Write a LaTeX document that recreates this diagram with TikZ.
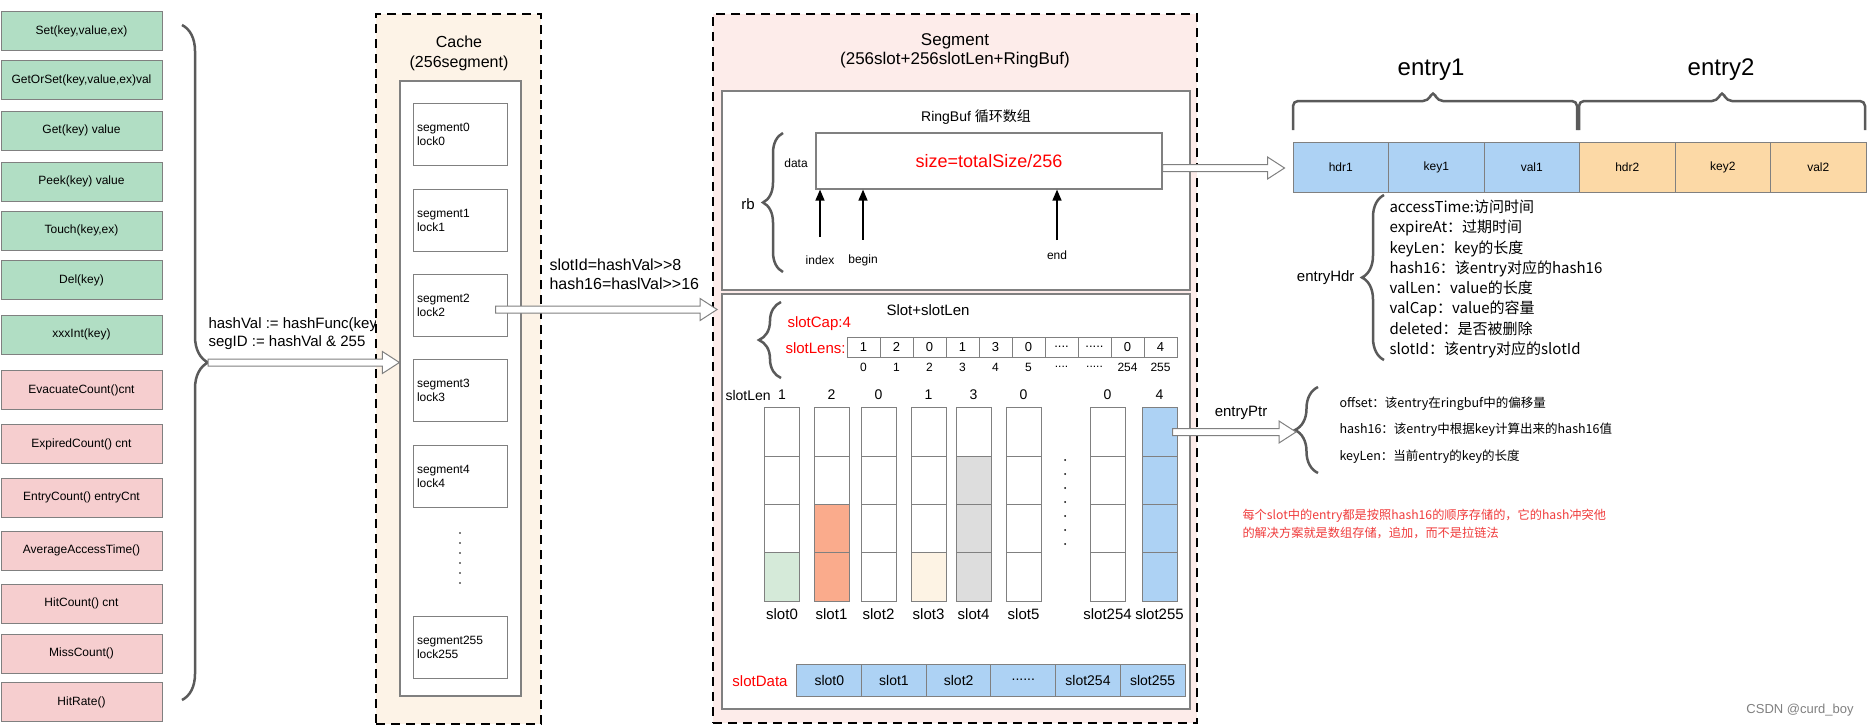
\documentclass[tikz,border=0pt]{standalone}
\usepackage{fontspec}
\setmainfont{Liberation Sans}
\newfontfamily\cjk{Noto Sans CJK SC}
\usetikzlibrary{positioning,calc,arrows.meta,decorations.pathreplacing}

\definecolor{apigreen}{RGB}{177,222,196}
\definecolor{apipink}{RGB}{246,206,207}
\definecolor{cachebg}{RGB}{253,243,231}
\definecolor{segbg}{RGB}{253,236,234}
\definecolor{boxgray}{RGB}{128,128,128}
\definecolor{bracegray}{RGB}{90,90,90}
\definecolor{cellblue}{RGB}{173,210,244}
\definecolor{cellorange}{RGB}{252,217,166}
\definecolor{cellsalmon}{RGB}{250,171,140}
\definecolor{cellgreen}{RGB}{213,234,217}
\definecolor{cellcream}{RGB}{253,243,228}
\definecolor{cellgrey}{RGB}{221,221,221}
\definecolor{notered}{RGB}{240,60,60}

\newcommand{\fourdots}{....}
\newcommand{\fivedots}{.....}
\newcommand{\sixdots}{......}

% hollow block arrow, horizontal at the height of #1, tip at the x of #2
\newcommand{\fatarrow}[2]{%
  \draw[fatline] let \p1=(#1), \p2=(#2) in
    (\x1,\y1+3.5pt) -- (\x2-17pt,\y1+3.5pt) -- (\x2-17pt,\y1+11pt) -- (\x2,\y1)
    -- (\x2-17pt,\y1-11pt) -- (\x2-17pt,\y1-3.5pt) -- (\x1,\y1-3.5pt) -- cycle;}

\tikzset{
  apibox/.style={draw=boxgray, line width=1pt, minimum width=161, minimum height=39, inner sep=0pt, font=\fontsize{12}{14}\selectfont},
  container/.style={draw=black, line width=1.8pt, dash pattern=on 9pt off 6pt, inner sep=0pt},
  panel/.style={draw=boxgray, line width=1.2pt, fill=white, inner sep=0pt},
  segbox/.style={draw=boxgray, line width=1pt, fill=white, minimum height=62, text width=86, align=left, inner sep=4pt, font=\fontsize{12}{14}\selectfont},
  cell/.style={draw=boxgray, line width=1pt, inner sep=0pt},
  slotcell/.style={cell, minimum width=35, minimum height=48.3},
  lenscell/.style={cell, fill=white, minimum width=33, minimum height=20, font=\fontsize{13}{15}\selectfont},
  sdcell/.style={cell, fill=cellblue, minimum width=64.7, minimum height=32, font=\fontsize{14}{16}\selectfont},
  entrycell/.style={cell, minimum width=95.5, minimum height=50, font=\fontsize{12}{14}\selectfont},
  bracestyle/.style={draw=bracegray, line width=2.5pt, decorate, decoration={brace, amplitude=#1}},
  bracepath/.style={draw=bracegray, line width=2.5pt, rounded corners=5pt},
  fatline/.style={draw=boxgray, fill=white, line width=1pt},
  uparrow/.style={->, draw=black, line width=1.5pt},
  redtext/.style={text=red, font=\fontsize{15}{18}\selectfont},
}

\begin{document}
\begin{tikzpicture}[x=1pt, y=-1pt, >={Triangle[length=11pt,width=9pt]}]

\fill[white] (0,0) rectangle (1868,726);
\useasboundingbox (0,0) rectangle (1868,726);

% API list
\foreach \y/\t/\c [count=\i] in {31/{Set(key,value,ex)}/apigreen, 80/{GetOrSet(key,value,ex)val}/apigreen,
    130.5/{Get(key) value}/apigreen, 181.5/{Peek(key) value}/apigreen, 230.5/{Touch(key,ex)}/apigreen,
    280/{Del(key)}/apigreen, 334.5/{xxxInt(key)}/apigreen, 390/{EvacuateCount()cnt}/apipink,
    444/{ExpiredCount() cnt}/apipink, 497.5/{EntryCount() entryCnt}/apipink, 550.5/{AverageAccessTime()}/apipink,
    603.5/{HitCount() cnt}/apipink, 653.5/{MissCount()}/apipink, 702/{HitRate()}/apipink}
  \node[apibox, fill=\c] (api\i) at (81.5,\y) {\t};
\draw[bracestyle=26pt] (182,25) -- (182,700);
\coordinate (apitip) at (208,362.5);
\node[anchor=west, align=left, font=\fontsize{15}{18}\selectfont] (hashlbl) at (205,334) {hashVal := hashFunc(key)\\segID := hashVal \& 255};

% Cache
\node[container, fill=cachebg, minimum width=165, minimum height=710] (cache) at (458.5,369) {};
\node[align=center, font=\fontsize{16}{20}\selectfont] (cachetitle) at (459,53) {Cache\\(256segment)};
\node[panel, minimum width=121, minimum height=615] (cachein) at (460.5,388.5) {};
\foreach \k/\y in {0/134, 1/220, 2/305.5, 3/390.5, 4/476.5, 255/647}
  \node[segbox] (seg\k) at (460,\y) {segment\k\\lock\k};
\foreach \k in {0,...,5}
  \fill (460,533+10*\k) circle (0.9);

% Segment
\node[container, fill=segbg, minimum width=484, minimum height=709] (segment) at (955,368.5) {};
\node[align=center, font=\fontsize{17}{19}\selectfont] (segtitle) at (955,51) {Segment\\(256slot+256slotLen+RingBuf)};
\node[anchor=west, align=left, font=\fontsize{16}{19}\selectfont] (slotlbl) at (546,274) {slotId=hashVal>{}>8\\hash16=haslVal>{}>16};

% RingBuf
\node[panel, minimum width=468, minimum height=199] (ringpanel) at (956,190.5) {};
\node[font=\fontsize{14}{16}\selectfont] (ringtitle) at (976,117) {RingBuf {\cjk 循环数组}};
\node[panel, minimum width=346, minimum height=56, text=red, font=\fontsize{18}{21}\selectfont] (data) at (989,161) {size=totalSize/256};
\node[font=\fontsize{12}{14}\selectfont] (datalbl) at (796,163) {data};
\draw[bracestyle=20pt] (783,272) -- (783,133);
\node[font=\fontsize{15}{17}\selectfont] (rb) at (748,204) {rb};
\node[font=\fontsize{12}{14}\selectfont] (idx) at (820,260) {index};
\node[font=\fontsize{12}{14}\selectfont] (bgn) at (863,260) {begin};
\node[font=\fontsize{12}{14}\selectfont] (endp) at (1057,255) {end};
\draw[uparrow] ([yshift=15pt]idx.north) -- (idx.north |- data.south);
\draw[uparrow] ([yshift=11pt]bgn.north) -- (bgn.north |- data.south);
\draw[uparrow] ([yshift=7pt]endp.north) -- (endp.north |- data.south);

% Slot + slotLen
\node[panel, minimum width=468, minimum height=415] (slotpanel) at (956,501.5) {};
\node[font=\fontsize{15}{17}\selectfont] (slottitle) at (928,310) {Slot+slotLen};
\draw[bracestyle=22pt] (781,378) -- (781,302);
\node[redtext, anchor=west] (slotcap) at (784,324) {slotCap:4};
\node[redtext, anchor=west] (slotlens) at (782,348) {slotLens:};
\foreach \v/\k [count=\i from 0] in {1/0,2/1,0/2,1/3,3/4,0/5,\fourdots/\fourdots,\fivedots/\fivedots,0/254,4/255}{
  \node[lenscell] (lens\i) at ({863.5+33*\i},347) {\v};
  \node[font=\fontsize{12}{14}\selectfont] (lensidx\i) at ({863.5+33*\i},367) {\k};
}
\node[anchor=west, font=\fontsize{14}{16}\selectfont] (slotlenlbl) at (722,395) {slotLen};
\foreach \x/\n/\c/\s in {782/1/cellgreen/0, 831.5/2/cellsalmon/1, 878.5/0/white/2, 928.5/1/cellcream/3,
    973.5/3/cellgrey/4, 1023.5/0/white/5, 1107.5/0/white/254, 1159.5/4/cellblue/255}{
  \node[font=\fontsize{14}{16}\selectfont] (len\s) at (\x,395) {\n};
  \foreach \r in {0,...,3}{
    \ifnum\r<\numexpr4-\n\relax \def\cellfill{white}\else \edef\cellfill{\c}\fi
    \node[slotcell, fill=\cellfill] (s\s-\r) at (\x,{432+48.3*\r}) {};
  }
  \node[font=\fontsize{15}{17}\selectfont] (lbl\s) at (\x,614) {slot\s};
}
\foreach \k in {0,...,6}
  \fill (1065,460+14*\k) circle (1);
\node[redtext] (sdlbl) at (760,681) {slotData};
\foreach \t [count=\i from 0] in {slot0,slot1,slot2,\sixdots,slot254,slot255}
  \node[sdcell] (sd\i) at ({829.3+64.67*\i},680) {\t};

% Entries
\node[font=\fontsize{24}{28}\selectfont] (entry1) at (1431,70) {entry1};
\node[font=\fontsize{24}{28}\selectfont] (entry2) at (1721,70) {entry2};
\draw[bracepath] (1293,130) -- (1293,101) -- (1428,101) -- (1433,91) -- (1438,101) -- (1577,101) -- (1577,130);
\draw[bracepath] (1579,130) -- (1579,101) -- (1717,101) -- (1722,91) -- (1727,101) -- (1865,101) -- (1865,130);
\foreach \t/\c [count=\i from 0] in {hdr1/cellblue,key1/cellblue,val1/cellblue,hdr2/cellorange,key2/cellorange,val2/cellorange}
  \node[entrycell, fill=\c] (\t) at ({1340.75+95.5*\i},167) {\t};
\draw[bracestyle=22pt] (1384,360) -- (1384,195);
\node[anchor=east, font=\fontsize{15}{17}\selectfont] (hdrlbl) at (1358,278) {entryHdr};
\node[anchor=west, align=left, font=\cjk\fontsize{15}{20.3}\selectfont] (hdrlist) at (1386,279)
  {accessTime:访问时间\\expireAt：过期时间\\keyLen：key的长度\\hash16：该entry对应的hash16\\valLen：value的长度\\valCap：value的容量\\deleted：是否被删除\\slotId：该entry对应的slotId};

% entryPtr
\node[font=\fontsize{15}{17}\selectfont] (ptrlbl) at (1241,413) {entryPtr};
\draw[bracestyle=23pt] (1318,473) -- (1318,387);
\coordinate (ptrtip) at (1296,431);
\node[anchor=west, align=left, font=\cjk\fontsize{12.5}{26.5}\selectfont] (ptrlist) at (1336,430)
  {offset：该entry在ringbuf中的偏移量\\hash16：该entry中根据key计算出来的hash16值\\keyLen：当前entry的key的长度};
\node[anchor=west, align=left, text=notered, font=\cjk\fontsize{12.2}{18}\selectfont] (note) at (1239,524)
  {每个slot中的entry都是按照hash16的顺序存储的，它的hash冲突他\\的解决方案就是数组存储，追加，而不是拉链法};

% Arrows
\fatarrow{apitip}{cachein.west}
\fatarrow{[xshift=-12pt,yshift=-4pt]seg2.east}{[xshift=5pt]segment.west}
\fatarrow{[yshift=-7pt]data.east}{[xshift=-8pt]hdr1.west}
\fatarrow{[xshift=-5pt]s255-0.east}{ptrtip}

\node[text=gray, font=\fontsize{13}{15}\selectfont] (mark) at (1800,710) {CSDN @curd\_boy};

\end{tikzpicture}
\end{document}
